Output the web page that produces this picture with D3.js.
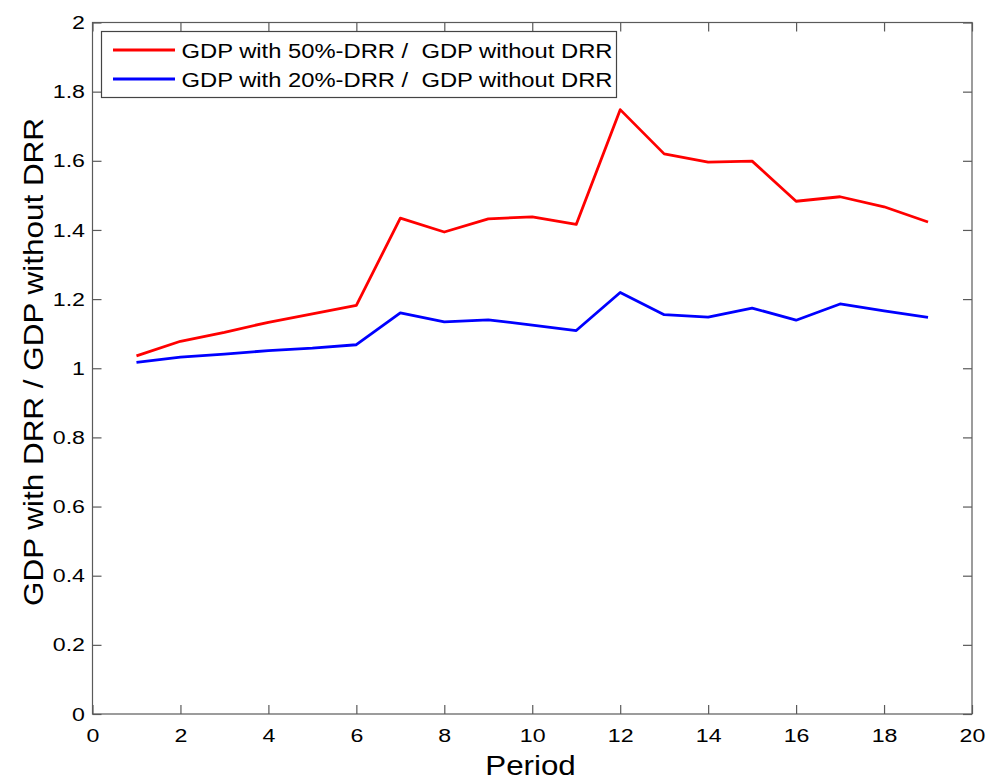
<!DOCTYPE html>
<html>
<head>
<meta charset="utf-8">
<script src="https://cdn.jsdelivr.net/npm/d3@7"></script>
<style>
  html, body { margin: 0; padding: 0; background: #fff; }
  svg { display: block; font-family: "Liberation Sans", Arial, sans-serif; }
</style>
</head>
<body>
<svg id="chart" width="987" height="780"></svg>
<script>
// Periods 1..19
const periods = d3.range(1, 20);

// Ratio of GDP with 50% disaster-risk reduction to GDP without DRR
const ratio50 = [1.036, 1.078, 1.104, 1.133, 1.157, 1.182, 1.434, 1.394, 1.432, 1.438,
                 1.416, 1.748, 1.620, 1.596, 1.599, 1.483, 1.496, 1.467, 1.423];

// Ratio of GDP with 20% disaster-risk reduction to GDP without DRR
const ratio20 = [1.017, 1.032, 1.041, 1.051, 1.058, 1.068, 1.160, 1.134, 1.140, 1.125,
                 1.109, 1.219, 1.155, 1.148, 1.174, 1.139, 1.186, 1.166, 1.147];

const xTicks = d3.range(0, 21, 2);
const yTicks = [0, 0.2, 0.4, 0.6, 0.8, 1, 1.2, 1.4, 1.6, 1.8, 2];

const seriesNames = ["GDP with 50%-DRR /  GDP without DRR",
                     "GDP with 20%-DRR /  GDP without DRR"];
const seriesColors = ["#ff0000", "#0000ff"];

const svg = d3.select("#chart");
const plotL = 92.5, plotR = 972, plotT = 22.5, plotB = 714;

const x = d3.scaleLinear().domain([0, 20]).range([plotL, plotR]);
const y = d3.scaleLinear().domain([0, 2]).range([plotB, plotT]);

const axisColor = "#5a5a5a";
const tickLen = 9;
const widen = 1.22;   // horizontal stretch of the wide sans-serif lettering

// Plot frame
svg.append("rect")
  .attr("x", plotL).attr("y", plotT)
  .attr("width", plotR - plotL).attr("height", plotB - plotT)
  .attr("fill", "none").attr("stroke", axisColor).attr("stroke-width", 1.2);

function styleAxis(g) {
  g.select(".domain").remove();
  g.selectAll(".tick line").attr("stroke", axisColor).attr("stroke-width", 1.2);
  g.selectAll(".tick text").attr("fill", "#000").attr("font-size", 19)
    .attr("transform", `scale(${widen},1)`);
}

// Bottom axis with inward ticks
svg.append("g").attr("transform", `translate(0,${plotB})`)
  .call(d3.axisBottom(x).tickValues(xTicks).tickFormat(d3.format("d"))
        .tickSizeInner(-tickLen).tickSizeOuter(0).tickPadding(15))
  .call(styleAxis);

// Top axis ticks (no labels)
svg.append("g").attr("transform", `translate(0,${plotT})`)
  .call(d3.axisTop(x).tickValues(xTicks).tickFormat("")
        .tickSizeInner(-tickLen).tickSizeOuter(0))
  .call(styleAxis);

// Left axis
svg.append("g").attr("transform", `translate(${plotL},0)`)
  .call(d3.axisLeft(y).tickValues(yTicks).tickFormat(d => String(+d.toFixed(1)))
        .tickSizeInner(-tickLen).tickSizeOuter(0).tickPadding(7.5 / widen))
  .call(styleAxis);

// Right axis ticks (no labels)
svg.append("g").attr("transform", `translate(${plotR},0)`)
  .call(d3.axisRight(y).tickValues(yTicks).tickFormat("")
        .tickSizeInner(-tickLen).tickSizeOuter(0))
  .call(styleAxis);

// Axis titles
svg.append("text")
  .attr("transform", `translate(530.5,775) scale(1.16,1)`)
  .attr("text-anchor", "middle").attr("font-size", 27).attr("fill", "#000")
  .text("Period");

svg.append("text")
  .attr("transform", `translate(43,362) rotate(-90) scale(1.165,1)`)
  .attr("text-anchor", "middle").attr("font-size", 27).attr("fill", "#000")
  .text("GDP with DRR / GDP without DRR");

// Series lines
const line = d3.line().x((d, i) => x(periods[i])).y(d => y(d));
[ratio50, ratio20].forEach((vals, k) => {
  svg.append("path")
    .datum(vals)
    .attr("d", line)
    .attr("fill", "none")
    .attr("stroke", seriesColors[k])
    .attr("stroke-width", 2.8)
    .attr("stroke-linejoin", "round");
});

// Legend
const legend = svg.append("g");
legend.append("rect")
  .attr("x", 101.5).attr("y", 31.5).attr("width", 515).attr("height", 66)
  .attr("fill", "#fff").attr("stroke", "#444").attr("stroke-width", 1.2);
seriesNames.forEach((name, k) => {
  const cy = 50 + k * 29;
  legend.append("line")
    .attr("x1", 113).attr("x2", 175).attr("y1", cy).attr("y2", cy)
    .attr("stroke", seriesColors[k]).attr("stroke-width", 2.8);
  legend.append("text")
    .attr("transform", `translate(181.5,${cy + 7.5}) scale(1.16,1)`)
    .attr("font-size", 20.5).attr("fill", "#000")
    .style("white-space", "pre")
    .text(name);
});
</script>
</body>
</html>
